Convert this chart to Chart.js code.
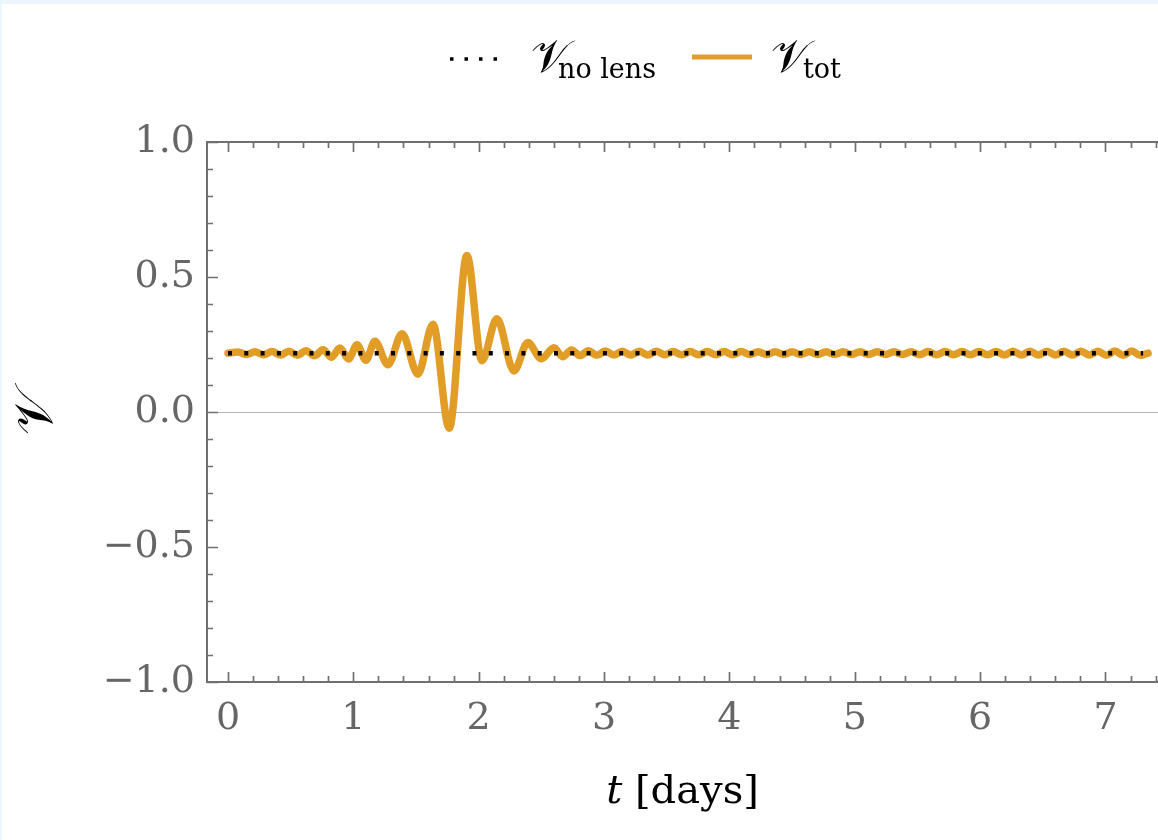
<!DOCTYPE html>
<html>
<head>
<meta charset="utf-8">
<script src="https://cdn.jsdelivr.net/npm/chart.js@4"></script>
<style>
  html, body { margin: 0; padding: 0; background: #eaf6fc; }
  #wrap { position: absolute; left: 2px; top: 4px; width: 1156px; height: 836px; background: #ffffff; }
</style>
</head>
<body>
<div id="wrap"><canvas id="myChart" width="1156" height="836"></canvas></div>
<script>
// visibility without lens (dotted) and with lens (orange)
var tNoLens = [0, 7.3];
var vNoLens = [0.218, 0.218];

var tTot = [
  0.000, 0.080, 0.148, 0.215, 0.283, 0.351, 0.419, 0.486, 0.554, 0.622,
  0.690, 0.758, 0.826, 0.893, 0.962, 1.029, 1.100, 1.172, 1.276, 1.388,
  1.515, 1.635, 1.765, 1.906, 2.026, 2.145, 2.281, 2.392, 2.500, 2.600,
  2.670, 2.740, 2.810, 2.875, 2.942, 3.010, 3.078, 3.145, 3.213, 3.281,
  3.349, 3.416, 3.484, 3.552, 3.620, 3.687, 3.755, 3.823, 3.891, 3.958,
  4.026, 4.094, 4.162, 4.229, 4.297, 4.365, 4.433, 4.500, 4.568, 4.636,
  4.704, 4.771, 4.839, 4.907, 4.975, 5.042, 5.110, 5.178, 5.246, 5.313,
  5.381, 5.449, 5.517, 5.584, 5.652, 5.720, 5.788, 5.855, 5.923, 5.991,
  6.059, 6.126, 6.194, 6.262, 6.330, 6.397, 6.465, 6.533, 6.601, 6.668,
  6.736, 6.804, 6.872, 6.939, 7.007, 7.075, 7.143, 7.210, 7.278, 7.340
];
var vTot = [
  0.218, 0.222, 0.213, 0.223, 0.212, 0.224, 0.211, 0.225, 0.210, 0.227,
  0.208, 0.231, 0.203, 0.237, 0.196, 0.249, 0.192, 0.262, 0.175, 0.290,
  0.140, 0.325, -0.060, 0.580, 0.190, 0.345, 0.152, 0.257, 0.197, 0.238,
  0.205, 0.230, 0.209, 0.227, 0.210, 0.226, 0.211, 0.225, 0.211, 0.225,
  0.211, 0.225, 0.212, 0.224, 0.212, 0.224, 0.212, 0.224, 0.212, 0.224,
  0.212, 0.224, 0.213, 0.223, 0.213, 0.223, 0.213, 0.223, 0.213, 0.223,
  0.213, 0.223, 0.213, 0.223, 0.213, 0.223, 0.213, 0.223, 0.213, 0.223,
  0.213, 0.223, 0.212, 0.224, 0.212, 0.224, 0.212, 0.224, 0.212, 0.224,
  0.212, 0.224, 0.211, 0.225, 0.211, 0.225, 0.211, 0.225, 0.211, 0.225,
  0.211, 0.225, 0.211, 0.225, 0.210, 0.226, 0.210, 0.226, 0.210, 0.218
];

var xTickLabels = ['0', '1', '2', '3', '4', '5', '6', '7'];
var yTickLabels = ['\u22121.0', '\u22120.5', '0.0', '0.5', '1.0'];

var orange = '#e19d26';
var axisGray = '#707070';
var tickFont = '"DejaVu Serif", serif';
var mathFont = '"DejaVu Serif", "DejaVu Sans", serif';

function toPoints(xs, ys) {
  var pts = [];
  for (let i = 0; i < xs.length; i++) pts.push({x: xs[i], y: ys[i]});
  return pts;
}

// frame with inward ticks, legend and x title
var extras = {
  id: 'extras',
  afterDatasetsDraw(chart) {
    var ctx = chart.ctx, a = chart.chartArea;
    var xs = chart.scales.x, ys = chart.scales.y;
    ctx.save();
    ctx.strokeStyle = axisGray;
    ctx.lineWidth = 2;
    ctx.beginPath();
    ctx.moveTo(a.right + 2, a.top);
    ctx.lineTo(a.left, a.top);
    ctx.lineTo(a.left, a.bottom);
    ctx.lineTo(a.right + 2, a.bottom);
    ctx.stroke();

    ctx.lineWidth = 1.7;
    ctx.beginPath();
    for (let i = 0; i <= 40; i++) {
      let v = i * 0.2;
      if (v > xs.max) break;
      let px = Math.round(xs.getPixelForValue(v)) + 0.5;
      let len = (i % 5 === 0) ? 10 : 6;
      ctx.moveTo(px, a.bottom); ctx.lineTo(px, a.bottom - len);
      ctx.moveTo(px, a.top); ctx.lineTo(px, a.top + len);
    }
    for (let i = -10; i <= 10; i++) {
      let py = Math.round(ys.getPixelForValue(i * 0.1)) + 0.5;
      let len = (i % 5 === 0) ? 11 : 6;
      ctx.moveTo(a.left, py); ctx.lineTo(a.left + len, py);
    }
    ctx.stroke();

    // legend
    ctx.strokeStyle = '#000';
    ctx.lineWidth = 3.5;
    ctx.setLineDash([3.5, 11]);
    ctx.beginPath();
    ctx.moveTo(448, 55); ctx.lineTo(498, 55);
    ctx.stroke();
    ctx.setLineDash([]);
    ctx.strokeStyle = orange;
    ctx.lineWidth = 5;
    ctx.beginPath();
    ctx.moveTo(690, 53); ctx.lineTo(750, 53);
    ctx.stroke();

    ctx.fillStyle = '#000';
    ctx.textBaseline = 'alphabetic';
    ctx.textAlign = 'left';
    ctx.font = '46px ' + mathFont;
    ctx.fillText('\uD835\uDCB1', 529, 68);
    ctx.fillText('\uD835\uDCB1', 769, 68);
    ctx.font = '27px ' + mathFont;
    ctx.fillText('no lens', 556, 74);
    ctx.fillText('tot', 801, 74);

    // x axis title
    ctx.font = 'italic 40px ' + mathFont;
    var tW = ctx.measureText('t').width;
    ctx.font = '40px ' + mathFont;
    var restW = ctx.measureText(' [days]').width;
    var x0 = (a.left + a.right) / 2 - (tW + restW) / 2;
    ctx.font = 'italic 40px ' + mathFont;
    ctx.fillText('t', x0, 799);
    ctx.font = '40px ' + mathFont;
    ctx.fillText(' [days]', x0 + tW, 799);
    ctx.restore();
  }
};

var ctx = document.getElementById('myChart').getContext('2d');
new Chart(ctx, {
  type: 'scatter',
  data: {
    datasets: [
      {
        label: 'no lens',
        data: toPoints(tNoLens, vNoLens),
        showLine: true,
        borderColor: '#000',
        borderWidth: 4.5,
        borderDash: [4, 12.3],
        pointRadius: 0,
        order: 0
      },
      {
        label: 'tot',
        data: toPoints(tTot, vTot),
        showLine: true,
        borderColor: orange,
        borderWidth: 7.5,
        borderCapStyle: 'round',
        borderJoinStyle: 'round',
        cubicInterpolationMode: 'monotone',
        pointRadius: 0,
        order: 1
      }
    ]
  },
  options: {
    responsive: false,
    animation: false,
    layout: { padding: { top: 138, left: 0, right: 0, bottom: 0 } },
    plugins: { legend: { display: false }, tooltip: { enabled: false } },
    scales: {
      x: {
        type: 'linear',
        min: -0.1675,
        max: 7.419,
        afterFit: function(scale) { scale.height = 158; },
        grid: { display: false },
        border: { display: false },
        ticks: {
          stepSize: 1,
          includeBounds: false,
          autoSkip: false,
          maxRotation: 0,
          padding: 6,
          color: '#666',
          font: { family: tickFont, size: 38 },
          callback: function(v) {
            var i = Math.round(v);
            return (Math.abs(v - i) < 1e-6 && i >= 0 && i < xTickLabels.length) ? xTickLabels[i] : '';
          }
        }
      },
      y: {
        min: -1,
        max: 1,
        afterFit: function(scale) { scale.width = 205; },
        grid: {
          drawTicks: false,
          lineWidth: 1,
          color: function(c) { return (c.tick && c.tick.value === 0) ? '#b4b4b4' : 'rgba(0,0,0,0)'; }
        },
        border: { display: false },
        title: {
          display: true,
          text: '\uD835\uDCB1',
          color: '#000',
          font: { family: mathFont, size: 54 },
          padding: { top: 4, bottom: 0 }
        },
        ticks: {
          stepSize: 0.5,
          padding: 12,
          color: '#666',
          font: { family: tickFont, size: 38 },
          callback: function(v) {
            var i = Math.round((v + 1) * 2);
            return yTickLabels[i];
          }
        }
      }
    }
  },
  plugins: [extras]
});
</script>
</body>
</html>
